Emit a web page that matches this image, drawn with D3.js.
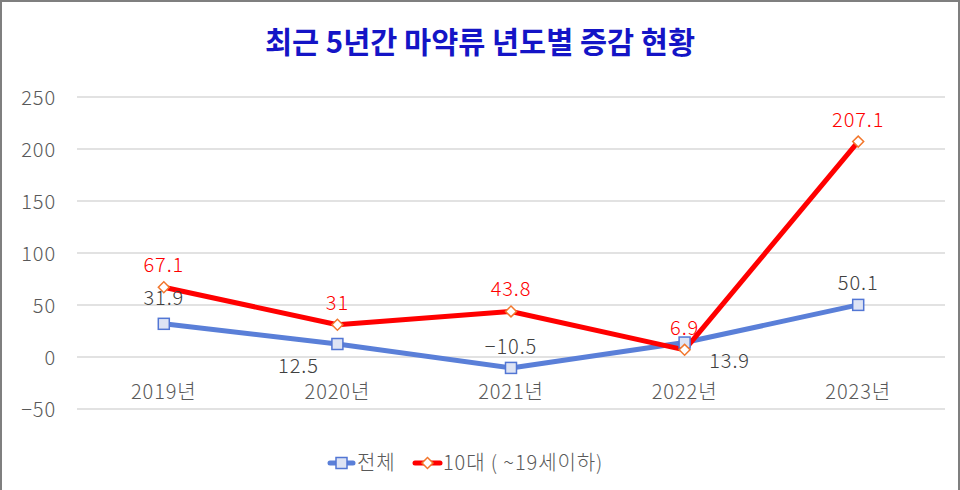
<!DOCTYPE html>
<html><head><meta charset="utf-8">
<script src="https://cdn.jsdelivr.net/npm/d3@7"></script>
<style>
html,body{margin:0;padding:0;background:#fff;}
svg{display:block;font-family:"Noto Sans CJK KR","Noto Sans",sans-serif;}
.lbl{letter-spacing:0.9px;}
</style></head>
<body>
<svg id="chart" width="960" height="490"></svg>
<script>
const categories = ["2019년","2020년","2021년","2022년","2023년"];
const totalValues = [31.9, 12.5, -10.5, 13.9, 50.1];
const teenValues = [67.1, 31, 43.8, 6.9, 207.1];
const yTicks = [-50, 0, 50, 100, 150, 200, 250];
const seriesNames = ["전체", "10대 ( ~19세이하)"];
const titleText = "최근 5년간 마약류 년도별 증감 현황";

const svg = d3.select("#chart");
const W = 960, H = 490;
const FS = 20;
const FW = 300;

// border
svg.append("rect").attr("x",1).attr("y",1).attr("width",W-2).attr("height",H+4)
  .attr("fill","#fff").attr("stroke","#7f7f7f").attr("stroke-width",2);

const left = 77, right = 945;
const x = d3.scaleBand().domain(categories).range([left, right]).padding(0);
const y = d3.scaleLinear().domain([-50, 250]).range([409, 97]);

// gridlines
svg.append("g").selectAll("line").data(yTicks).join("line")
  .attr("x1", left).attr("x2", right)
  .attr("y1", d => y(d)).attr("y2", d => y(d))
  .attr("stroke", "#d9d9d9").attr("stroke-width", 1.3);

const fmt = v => v < 0 ? "−" + Math.abs(v) : String(v);

// y axis labels
const yAxis = d3.axisLeft(y).tickValues(yTicks).tickSize(0).tickPadding(0).tickFormat(fmt);
const ya = svg.append("g").attr("transform", `translate(56,0)`).call(yAxis);
ya.select(".domain").remove();
ya.selectAll("text").attr("class","lbl").attr("fill","#595959").attr("font-size",FS).attr("font-weight",FW)
  .attr("font-family","Noto Sans CJK KR").attr("dy","0.35em");

// x axis labels
const xAxis = d3.axisBottom(x).tickSize(0).tickPadding(0);
const xa = svg.append("g").attr("transform", `translate(0,${y(0)})`).call(xAxis);
xa.select(".domain").remove();
xa.selectAll("text").attr("class","lbl").attr("fill","#595959").attr("font-size",FS).attr("font-weight",FW)
  .attr("font-family","Noto Sans CJK KR").attr("dy", 42);

const cx = d => x(d) + x.bandwidth()/2;

const blueLine = "#5a7fd8", redLine = "#ff0000";
const line = d3.line().x(d => cx(d.c)).y(d => y(d.v));
const totalData = categories.map((c,i)=>({c, v: totalValues[i]}));
const teenData = categories.map((c,i)=>({c, v: teenValues[i]}));

svg.append("path").datum(totalData).attr("d", line).attr("fill","none")
  .attr("stroke", blueLine).attr("stroke-width", 5).attr("stroke-linejoin","round");
svg.append("path").datum(teenData).attr("d", line).attr("fill","none")
  .attr("stroke", redLine).attr("stroke-width", 5).attr("stroke-linejoin","round");

// markers
svg.append("g").selectAll("rect").data(totalData).join("rect")
  .attr("x", d => cx(d.c) - 5.5).attr("y", d => y(d.v) - 5.5)
  .attr("width", 11).attr("height", 11)
  .attr("fill", "#dde3f4").attr("stroke", "#5276d4").attr("stroke-width", 1.5);
const diamond = d3.symbol().type(d3.symbolSquare).size(60);
svg.append("g").selectAll("path").data(teenData).join("path")
  .attr("d", diamond())
  .attr("transform", d => `translate(${cx(d.c)},${y(d.v)}) rotate(45)`)
  .attr("fill", "#fff").attr("stroke", "#f2772d").attr("stroke-width", 1.5);

// data labels
const totalOffsets = [[0,-26],[-39,22],[0,-21],[45,18],[0,-22]];
svg.append("g").selectAll("text").data(totalData).join("text")
  .attr("class","lbl")
  .attr("x", (d,i) => cx(d.c) + totalOffsets[i][0])
  .attr("y", (d,i) => y(d.v) + totalOffsets[i][1])
  .attr("text-anchor","middle").attr("dy","0.35em")
  .attr("font-size",FS).attr("font-weight",FW).attr("fill","#404040")
  .text(d => fmt(d.v));
svg.append("g").selectAll("text").data(teenData).join("text")
  .attr("class","lbl")
  .attr("x", d => cx(d.c))
  .attr("y", d => y(d.v) - 22)
  .attr("text-anchor","middle").attr("dy","0.35em")
  .attr("font-size",FS).attr("font-weight",FW).attr("fill","#ff0000")
  .text(d => d.v);

// title
svg.append("text").attr("x", 480).attr("y", 42).attr("dy","0.35em")
  .attr("text-anchor","middle").attr("font-size", 30).attr("font-weight","bold")
  .attr("fill","#1414c6")
  .attr("textLength", 430).attr("lengthAdjust","spacingAndGlyphs")
  .text(titleText);

// legend
const lg = svg.append("g");
const ly = 463;
lg.append("line").attr("x1",330).attr("x2",353).attr("y1",ly).attr("y2",ly)
  .attr("stroke",blueLine).attr("stroke-width",5).attr("stroke-linecap","round");
lg.append("rect").attr("x",336).attr("y",ly-5.5).attr("width",11).attr("height",11)
  .attr("fill","#dde3f4").attr("stroke","#5276d4").attr("stroke-width",1.5);
lg.append("text").attr("class","lbl").attr("x",357).attr("y",ly).attr("dy","0.35em").attr("font-size",FS).attr("font-weight",FW)
  .attr("fill","#595959").text(seriesNames[0]);
lg.append("line").attr("x1",415).attr("x2",440).attr("y1",ly).attr("y2",ly)
  .attr("stroke",redLine).attr("stroke-width",5).attr("stroke-linecap","round");
lg.append("path").attr("d", diamond()).attr("transform",`translate(427.5,${ly}) rotate(45)`)
  .attr("fill","#fff").attr("stroke","#f2772d").attr("stroke-width",1.5);
lg.append("text").attr("class","lbl").attr("x",443).attr("y",ly).attr("dy","0.35em").attr("font-size",FS).attr("font-weight",FW)
  .attr("fill","#595959").text(seriesNames[1]);
</script>
</body></html>
